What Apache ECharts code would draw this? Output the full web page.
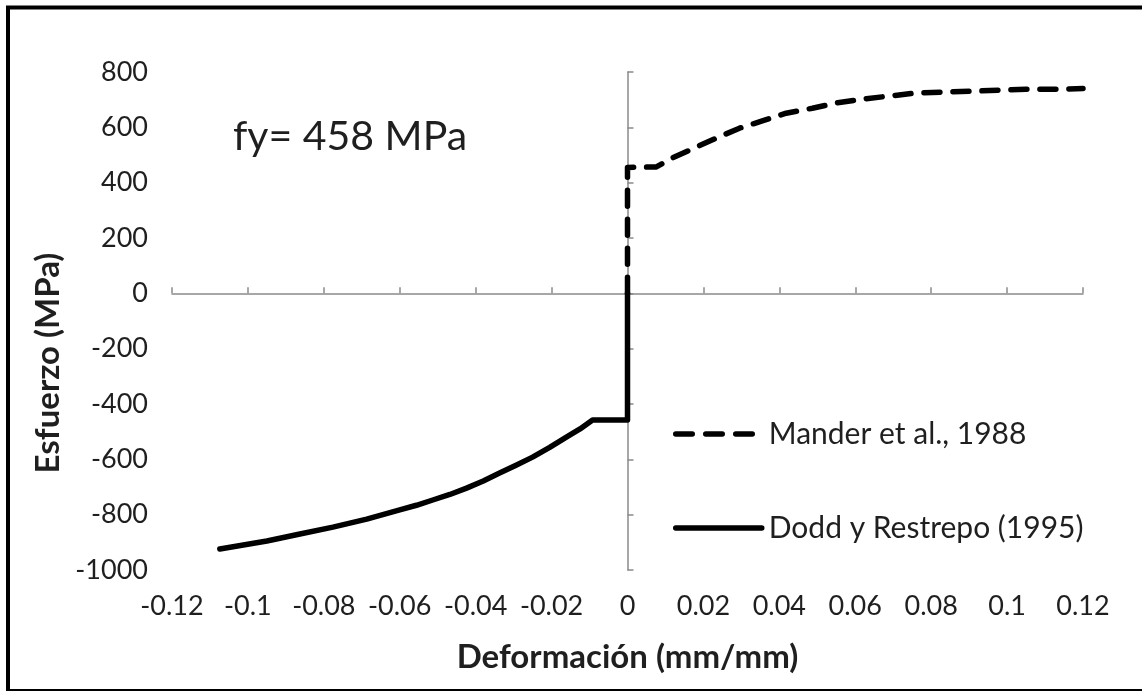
<!DOCTYPE html>
<html>
<head>
<meta charset="utf-8">
<script src="https://cdn.jsdelivr.net/npm/echarts@6/dist/echarts.min.js"></script>
<style>
  html, body { margin: 0; padding: 0; background: #fff; }
  #chart { width: 1142px; height: 691px; }
</style>
</head>
<body>
<div id="chart"></div>
<script>
// strain (mm/mm), stress (MPa)
var manderStrain = [0, 0, 0.0076, 0.0118, 0.0182, 0.0234, 0.0295, 0.0355, 0.0418, 0.0487, 0.055, 0.0618, 0.069, 0.076, 0.084, 0.0918, 0.0987, 0.105, 0.1137, 0.12];
var manderStress = [0, 455, 457, 489, 529, 561, 597, 623, 651, 669, 688, 702, 713, 724, 728, 731, 735, 738, 738, 740];

var doddStrain = [0, 0, -0.0092, -0.0125, -0.016, -0.0205, -0.025, -0.0295, -0.0337, -0.038, -0.0424, -0.0468, -0.0513, -0.0556, -0.06, -0.0687, -0.0776, -0.0863, -0.095, -0.1074];
var doddStress = [0, -458, -458, -490, -519, -557, -592, -622, -649, -678, -704, -727, -747, -766, -783, -816, -845, -870, -895, -924];

var seriesNames = ['Mander et al., 1988', 'Dodd y Restrepo (1995)'];
var fyLabel = 'fy= 458 MPa';

function pairs(xs, ys) {
    return xs.map(function (x, i) { return [x, ys[i]]; });
}

var FONT = 'Lato';
var axisGray = '#8a8a8a';
var textColor = '#1f1f1f';
var dash = [16, 13];

var chart = echarts.init(document.getElementById('chart'));

chart.setOption({
    animation: false,
    backgroundColor: '#fff',
    title: {
        text: fyLabel,
        left: 228,
        top: 111,
        textStyle: { fontFamily: FONT, fontSize: 41, fontWeight: 'normal', color: textColor }
    },
    legend: {
        orient: 'vertical',
        left: 668,
        top: 414,
        itemWidth: 86,
        itemHeight: 30,
        itemGap: 64,
        itemStyle: { opacity: 0 },
        textStyle: { fontFamily: FONT, fontSize: 30, color: textColor, lineHeight: 30, padding: [0, 0, 0, 2] },
        data: [
            { name: seriesNames[0], lineStyle: { width: 5.5, type: [16.5, 13.5], cap: 'round', color: '#000' } },
            { name: seriesNames[1], lineStyle: { width: 5.5, type: 'solid', cap: 'round', color: '#000' } }
        ]
    },
    grid: { left: 172, right: 59, top: 72, bottom: 121 },
    xAxis: [{
        type: 'value',
        min: -0.12, max: 0.12, interval: 0.02,
        axisLine: { show: false, onZero: false },
        axisTick: { show: false },
        splitLine: { show: false },
        axisLabel: {
            margin: 23,
            fontFamily: FONT, fontSize: 27, color: textColor,
            formatter: function (v) { return String(Math.round(v * 100) / 100); }
        },
        name: 'Deformación (mm/mm)',
        nameLocation: 'middle',
        nameGap: 71,
        nameTextStyle: { fontFamily: FONT, fontSize: 33, fontWeight: 'bold', color: textColor }
    }, {
        type: 'value',
        min: -0.12, max: 0.12, interval: 0.02,
        axisLine: { show: true, onZero: true, lineStyle: { color: axisGray, width: 1.5 } },
        axisTick: { show: true, length: 6, lineStyle: { color: axisGray, width: 1.5 } },
        axisLabel: { show: false },
        splitLine: { show: false }
    }],
    yAxis: [{
        type: 'value',
        min: -1000, max: 800, interval: 200,
        axisLine: { show: false, onZero: false },
        axisTick: { show: false },
        splitLine: { show: false },
        axisLabel: {
            margin: 24,
            fontFamily: FONT, fontSize: 27, color: textColor,
            formatter: function (v) { return String(v); }
        },
        name: 'Esfuerzo (MPa)',
        nameLocation: 'middle',
        nameGap: 96,
        nameTextStyle: { fontFamily: FONT, fontSize: 33, fontWeight: 'bold', color: textColor, padding: [0, 84, 0, 0] }
    }, {
        type: 'value',
        min: -1000, max: 800, interval: 200,
        axisLine: { show: true, onZero: true, lineStyle: { color: axisGray, width: 1.5 } },
        axisTick: { show: true, length: 6, lineStyle: { color: axisGray, width: 1.5 } },
        axisLabel: { show: false },
        splitLine: { show: false }
    }],
    series: [{
        name: seriesNames[0],
        type: 'line',
        symbol: 'none',
        color: '#000',
        data: pairs(manderStrain, manderStress),
        lineStyle: { color: '#000', width: 5.5, type: dash, cap: 'round', join: 'round' },
        z: 3
    }, {
        name: seriesNames[1],
        type: 'line',
        symbol: 'none',
        color: '#000',
        data: pairs(doddStrain, doddStress),
        lineStyle: { color: '#000', width: 5.5, cap: 'round', join: 'round' },
        z: 2
    }],
    graphic: [{
        type: 'rect',
        shape: { x: 8, y: 7.5, width: 1140, height: 683.5 },
        style: { fill: null, stroke: '#000', lineWidth: 4 },
        silent: true
    }]
});
</script>
</body>
</html>
